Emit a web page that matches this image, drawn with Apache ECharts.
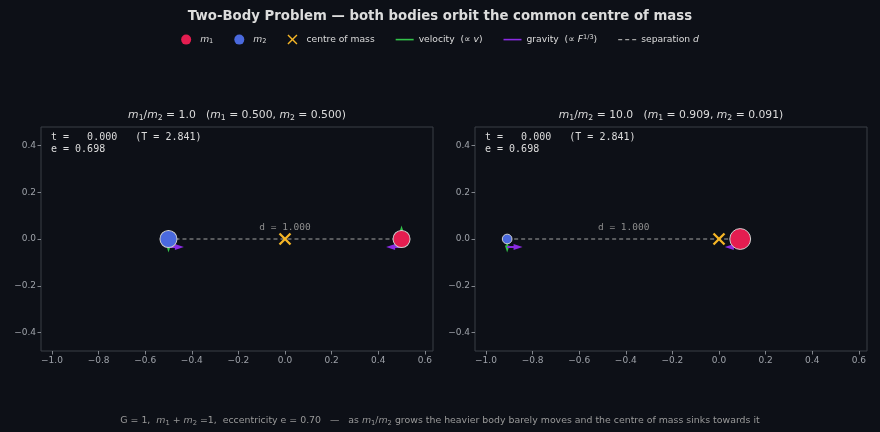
<!DOCTYPE html>
<html><head><meta charset="utf-8">
<script src="https://cdn.jsdelivr.net/npm/echarts@6/dist/echarts.min.js"></script>
<style>html,body{margin:0;padding:0;background:#0d1017;}#c{width:880px;height:432px;}</style>
</head><body><div id="c"></div>
<script>
// ---- data ----
const ratios = [1.0, 10.0];
const mass1 = [0.500, 0.909];
const mass2 = [0.500, 0.091];
const pos1X = [0.500, 0.091];
const pos2X = [-0.500, -0.909];
const posY = [0, 0];
const vel1Y = [0.275, 0.050];
const vel2Y = [-0.275, -0.500];
const gravityF = [0.250, 0.083];
const separation = [1.000, 1.000];
const timeNow = [0.000, 0.000];
const period = [2.841, 2.841];
const eccMeasured = [0.698, 0.698];
const eccNominal = 0.70;
const xTicks = [-1.0, -0.8, -0.6, -0.4, -0.2, 0.0, 0.2, 0.4, 0.6];
const yTicks = [-0.4, -0.2, 0.0, 0.2, 0.4];

// ---- style ----
const COL = {m1:'#e41d50', m2:'#4a69dd', com:'#f6b626', vel:'#33c24a', grav:'#8a2be2', sep:'#a3a3a3'};
const TXT = '#dcdcdc', AX = '#9ea2a9', BORDER = '#3a3e47';
const VEL_LEN = 0.058, GRAV_LEN = 0.066;
const SANS = 'DejaVu Sans', MONO = 'DejaVu Sans Mono';
const grids = [{left:41, top:127, width:392, height:224}, {left:475, top:127, width:392, height:224}];

const chart = echarts.init(document.getElementById('c'));
const fmt = v => (v < -1e-9 ? '\u2212' : '') + Math.abs(v).toFixed(1);

function arrowRender(o) {
  return function (params, api) {
    const p0 = api.coord([api.value(0), api.value(1)]);
    const p1 = api.coord([api.value(0) + api.value(2), api.value(1) + api.value(3)]);
    const x0 = p0[0] + (o.ox||0), y0 = p0[1] + (o.oy||0), x1 = p1[0] + (o.ox||0), y1 = p1[1] + (o.oy||0);
    const L = Math.hypot(x1 - x0, y1 - y0);
    if (L < 0.5) return null;
    const ux = (x1 - x0) / L, uy = (y1 - y0) / L, nx = -uy, ny = ux;
    const hl = Math.min(o.headLen, L), hw = o.headW / 2;
    const bx = x1 - ux * hl, by = y1 - uy * hl;
    return {type:'group', children:[
      {type:'line', shape:{x1:x0, y1:y0, x2:bx + ux*1, y2:by + uy*1}, style:{stroke:o.color, lineWidth:o.lw}},
      {type:'polygon', shape:{points:[[x1, y1], [bx + nx*hw, by + ny*hw], [bx - nx*hw, by - ny*hw]]}, style:{fill:o.color}}
    ]};
  };
}

const xAxes = [], yAxes = [], series = [];
for (let p = 0; p < 2; p++) {
  xAxes.push({gridIndex:p, type:'value', min:-1.047, max:0.635, position:'bottom',
    axisLine:{show:false, onZero:false}, splitLine:{show:false},
    axisTick:{show:true, length:3.5, lineStyle:{color:AX, width:0.8}, customValues:xTicks},
    axisLabel:{customValues:xTicks, formatter:fmt, color:AX, fontSize:9, fontFamily:SANS, margin:5}});
  yAxes.push({gridIndex:p, type:'value', min:-0.479, max:0.479, position:'left',
    axisLine:{show:false, onZero:false}, splitLine:{show:false},
    axisTick:{show:true, length:3.5, lineStyle:{color:AX, width:0.8}, customValues:yTicks},
    axisLabel:{customValues:yTicks, formatter:fmt, color:AX, fontSize:9, fontFamily:SANS, margin:5}});

  const ax = {xAxisIndex:p, yAxisIndex:p, coordinateSystem:'cartesian2d'};
  const vmax = Math.max(Math.abs(vel1Y[p]), Math.abs(vel2Y[p]));
  const gLen = GRAV_LEN * Math.cbrt(gravityF[p]) / Math.cbrt(gravityF[p]);
  const com = mass1[p] * pos1X[p] + mass2[p] * pos2X[p];

  series.push(Object.assign({type:'custom', name:'separation', z:1, silent:true,
    itemStyle:{color:COL.sep},
    data:[[pos2X[p], posY[p], pos1X[p], posY[p], separation[p]]],
    renderItem:function (params, api) {
      const a = api.coord([api.value(0), api.value(1)]), b = api.coord([api.value(2), api.value(3)]);
      return {type:'group', children:[
        {type:'line', shape:{x1:a[0], y1:a[1], x2:b[0], y2:b[1]}, style:{stroke:COL.sep, lineWidth:1, lineDash:[4, 3]}},
        {type:'text', style:{text:'d = ' + api.value(4).toFixed(3), x:(a[0] + b[0]) / 2, y:a[1] - 11,
          fill:'#8e8e8e', font:'9.5px "' + MONO + '"', align:'center', verticalAlign:'middle'}}
      ]};
    }}, ax));

  series.push(Object.assign({type:'custom', name:'velocity', z:2, silent:true, itemStyle:{color:COL.vel},
    data:[[pos1X[p], posY[p], 0, VEL_LEN * vel1Y[p] / vmax], [pos2X[p], posY[p], 0, VEL_LEN * vel2Y[p] / vmax]],
    renderItem:arrowRender({color:COL.vel, headLen:7, headW:4.5, lw:1.6})}, ax));

  series.push(Object.assign({type:'custom', name:'gravity', z:2, silent:true, itemStyle:{color:COL.grav},
    data:[[pos1X[p], posY[p], -gLen, 0], [pos2X[p], posY[p], gLen, 0]],
    renderItem:arrowRender({color:COL.grav, headLen:9, headW:6, lw:2, oy:8})}, ax));

  series.push(Object.assign({type:'scatter', name:'m1', z:3, silent:true,
    symbol:'circle', symbolSize:21.5 * Math.cbrt(mass1[p]),
    itemStyle:{color:COL.m1, borderColor:'#cfcfcf', borderWidth:1, opacity:1},
    data:[[pos1X[p], posY[p]]]}, ax));
  series.push(Object.assign({type:'scatter', name:'m2', z:3, silent:true,
    symbol:'circle', symbolSize:21.5 * Math.cbrt(mass2[p]),
    itemStyle:{color:COL.m2, borderColor:'#cfcfcf', borderWidth:1, opacity:1},
    data:[[pos2X[p], posY[p]]]}, ax));

  series.push(Object.assign({type:'custom', name:'centre of mass', z:4, silent:true, itemStyle:{color:COL.com},
    data:[[com, 0]],
    renderItem:function (params, api) {
      const c = api.coord([api.value(0), api.value(1)]), r = 5.5;
      return {type:'group', children:[
        {type:'line', shape:{x1:c[0]-r, y1:c[1]-r, x2:c[0]+r, y2:c[1]+r}, style:{stroke:COL.com, lineWidth:2.3}},
        {type:'line', shape:{x1:c[0]-r, y1:c[1]+r, x2:c[0]+r, y2:c[1]-r}, style:{stroke:COL.com, lineWidth:2.3}}
      ]};
    }}, ax));
}

const richBase = (fs, col) => ({
  n:{fill:col, color:col, fontSize:fs, fontFamily:SANS, lineHeight:fs + 2},
  i:{fill:col, color:col, fontSize:fs, fontFamily:SANS, fontStyle:'italic', lineHeight:fs + 2},
  s:{fill:col, color:col, fontSize:fs * 0.72, fontFamily:SANS, verticalAlign:'bottom'},
  sup:{fill:col, color:col, fontSize:fs * 0.72, fontFamily:SANS, verticalAlign:'top'}
});

const graphics = [
  {type:'text', silent:true, style:{text:'Two-Body Problem \u2014 both bodies orbit the common centre of mass',
    x:440, y:16.5, fill:TXT, font:'bold 13.3px "' + SANS + '"', align:'center', verticalAlign:'middle'}},
  {type:'text', silent:true, style:{
    text:'{n|G = 1,  }{i|m}{s|1}{n| + }{i|m}{s|2}{n| =1,  eccentricity e = ' + eccNominal.toFixed(2) + '   \u2014   as }{i|m}{s|1}{n|/}{i|m}{s|2}{n| grows the heavier body barely moves and the centre of mass sinks towards it}',
    x:440, y:421, align:'center', verticalAlign:'middle', rich:richBase(9.4, '#9a9a9a')}}
];
for (let p = 0; p < 2; p++) {
  const g = grids[p];
  graphics.push({type:'text', silent:true, style:{
    text:'{i|m}{s|1}{n|/}{i|m}{s|2}{n| = ' + ratios[p].toFixed(1) + '   (}{i|m}{s|1}{n| = ' + mass1[p].toFixed(3) + ', }{i|m}{s|2}{n| = ' + mass2[p].toFixed(3) + ')}',
    x:g.left + g.width / 2, y:115.5, align:'center', verticalAlign:'middle', rich:richBase(10.8, TXT)}});
  graphics.push({type:'text', silent:true, style:{
    text:'t = ' + timeNow[p].toFixed(3).padStart(7, ' ') + '   (T = ' + period[p].toFixed(3) + ')\ne = ' + eccMeasured[p].toFixed(3),
    x:g.left + 10, y:g.top + 4, fill:TXT, font:'10px "' + MONO + '"', lineHeight:12, align:'left', verticalAlign:'top'}});
}

const legendNames = {
  'm1':'{i|m}{s|1}', 'm2':'{i|m}{s|2}', 'centre of mass':'{n|centre of mass}',
  'velocity':'{n|velocity  (\u221d }{i|v}{n|)}', 'gravity':'{n|gravity  (\u221d }{i|F}{sup|1/3}{n|)}',
  'separation':'{n|separation }{i|d}'
};
const lr = richBase(9.2, TXT);

chart.setOption({
  backgroundColor:'#0d1017',
  animation:false,
  grid:grids.map(g => Object.assign({show:true, borderColor:BORDER, borderWidth:1, backgroundColor:'transparent'}, g)),
  xAxis:xAxes, yAxis:yAxes,
  legend:{top:29, left:'center', itemWidth:18, itemHeight:10, itemGap:21, selectedMode:false,
    itemStyle:{borderWidth:0},
    textStyle:{color:TXT, fontSize:9.2, fontFamily:SANS, rich:lr},
    formatter:name => legendNames[name],
    data:[
      {name:'m1', icon:'circle'},
      {name:'m2', icon:'circle'},
      {name:'centre of mass', icon:'path://M1,0L5,4L9,0L10,1L6,5L10,9L9,10L5,6L1,10L0,9L4,5L0,1Z'},
      {name:'velocity', icon:'path://M0,0h18v1.6h-18z'},
      {name:'gravity', icon:'path://M0,0h18v1.6h-18z'},
      {name:'separation', icon:'path://M0,0h4v1.3h-4zM7,0h4v1.3h-4zM14,0h4v1.3h-4z'}
    ]},
  graphic:graphics,
  series:series
});
</script></body></html>
